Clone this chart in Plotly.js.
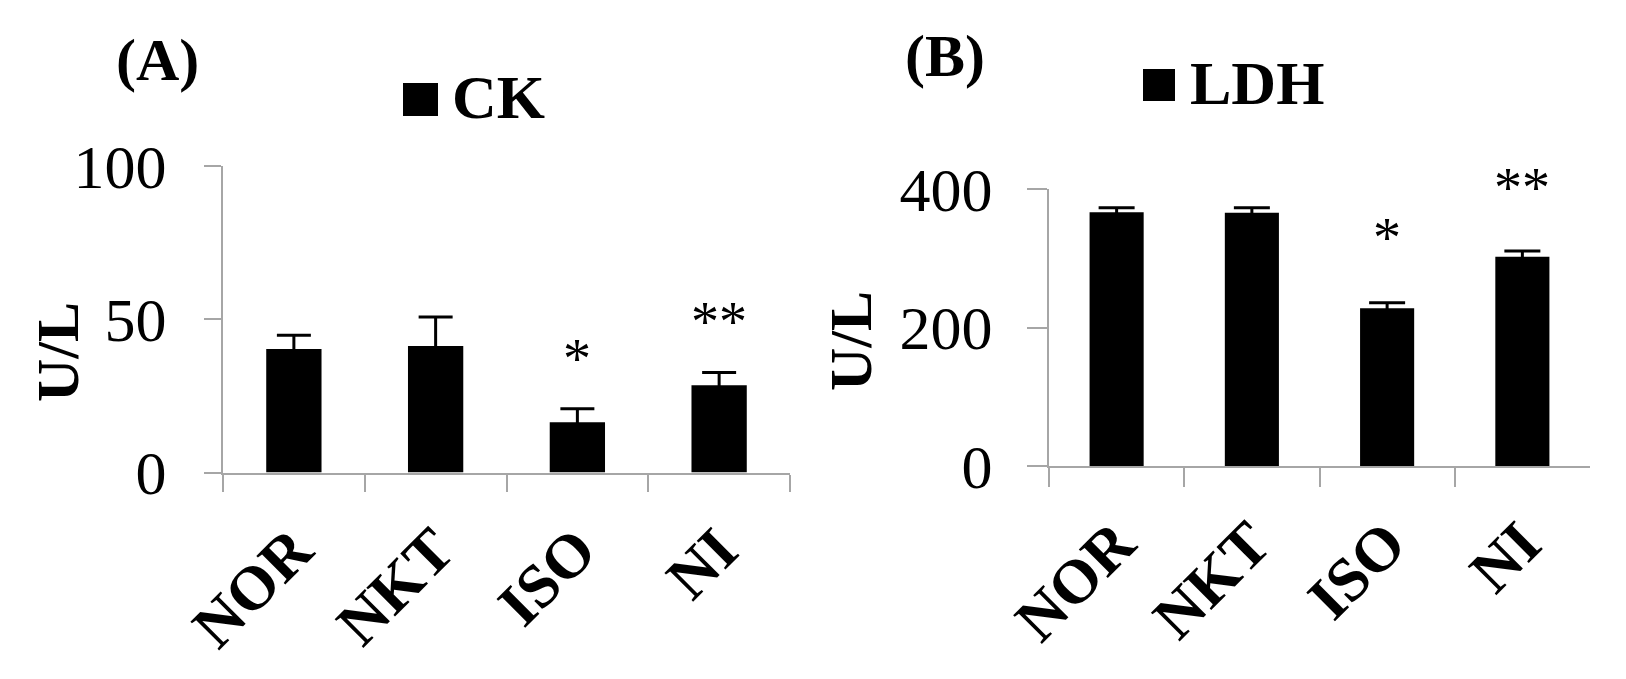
<!DOCTYPE html>
<html>
<head>
<meta charset="utf-8">
<script src="https://cdn.plot.ly/plotly-3.0.1.min.js"></script>
<style>html,body{margin:0;padding:0;background:#fff;}#chart{width:1626px;height:679px;}</style>
</head>
<body>
<div id="chart"></div>
<script>
// ---- data ----
const categories = ["NOR", "NKT", "ISO", "NI"];
const ckValues = [40.3, 41.3, 16.4, 28.5];
const ckErrors = [4.5, 9.4, 4.4, 4.1];
const ldhValues = [366.8, 366.2, 228.0, 302.6];
const ldhErrors = [6.6, 7.0, 8.1, 8.2];
const ckSig = ["", "", "*", "**"];
const ldhSig = ["", "", "*", "**"];
const ckName = "CK";
const ldhName = "LDH";
const unitLabel = "U/L";
const panelLabels = ["(A)", "(B)"];

// ---- helpers ----
const W = 1626, H = 679;
const px = x => x / W;
const py = y => 1 - y / H;
const SERIF = "Liberation Serif";
const AXC = "#a6a6a6";

const traces = [
  {type: "bar", x: categories, y: ckValues, name: ckName, xaxis: "x", yaxis: "y",
   width: 0.39, marker: {color: "#000000"},
   error_y: {type: "data", array: ckErrors, visible: true, color: "#000000", thickness: 3, width: 17}},
  {type: "bar", x: categories, y: ldhValues, name: ldhName, xaxis: "x2", yaxis: "y2",
   width: 0.40, marker: {color: "#000000"},
   error_y: {type: "data", array: ldhErrors, visible: true, color: "#000000", thickness: 3, width: 18}}
];

function xAxis(domain, anchor, ticklen) {
  return {domain: domain, anchor: anchor, type: "category", range: [-0.5, 3.5],
    tickson: "boundaries", ticks: "outside", ticklen: ticklen, tickwidth: 2, tickcolor: AXC,
    showline: true, linecolor: AXC, linewidth: 2, showgrid: false, zeroline: false,
    tickangle: -45, ticklabelstandoff: 14,
    tickfont: {family: SERIF, size: 62, weight: "bold", color: "#000"}, fixedrange: true};
}
function yAxis(domain, anchor, range, tickvals, ticklen, standoff) {
  return {domain: domain, anchor: anchor, range: range, tickmode: "array", tickvals: tickvals,
    ticks: "outside", ticklen: ticklen, tickwidth: 2, tickcolor: AXC,
    showline: true, linecolor: AXC, linewidth: 2, showgrid: false, zeroline: false,
    ticklabelstandoff: standoff,
    tickfont: {family: SERIF, size: 62, color: "#000"}, fixedrange: true};
}

// significance marker positions (layout)
const ckSigY = [0, 0, 37.1, 49.2];
const ldhSigY = [0, 0, 322, 395];

const annotations = [];
function note(o) {
  annotations.push(Object.assign({showarrow: false, xanchor: "center", yanchor: "middle"}, o));
}
categories.forEach((c, i) => {
  if (ckSig[i]) note({xref: "x", yref: "y", x: c, y: ckSigY[i], text: ckSig[i],
    font: {family: SERIF, size: 56, color: "#000"}});
  if (ldhSig[i]) note({xref: "x2", yref: "y2", x: c, y: ldhSigY[i], yshift: 5, text: ldhSig[i],
    font: {family: SERIF, size: 56, color: "#000"}});
});
// panel labels
note({xref: "paper", yref: "paper", x: px(157), y: py(60), text: panelLabels[0],
  font: {family: SERIF, size: 60, weight: "bold", color: "#000"}});
note({xref: "paper", yref: "paper", x: px(945), y: py(56), text: panelLabels[1],
  font: {family: SERIF, size: 60, weight: "bold", color: "#000"}});
// legend texts
note({xref: "paper", yref: "paper", x: px(450), y: py(97), xanchor: "left", text: ckName,
  font: {family: SERIF, size: 62, weight: "bold", color: "#000"}});
note({xref: "paper", yref: "paper", x: px(1188), y: py(83), xanchor: "left", text: ldhName,
  font: {family: SERIF, size: 62, weight: "bold", color: "#000"}});
// y-axis titles
note({xref: "paper", yref: "paper", x: px(58), y: py(352), text: unitLabel, textangle: -90,
  font: {family: SERIF, size: 60, weight: "bold", color: "#000"}});
note({xref: "paper", yref: "paper", x: px(851), y: py(341), text: unitLabel, textangle: -90,
  font: {family: SERIF, size: 60, weight: "bold", color: "#000"}});

const shapes = [
  {type: "rect", xref: "paper", yref: "paper", x0: px(403), x1: px(438), y0: py(116), y1: py(83),
   fillcolor: "#000", line: {width: 0}},
  {type: "rect", xref: "paper", yref: "paper", x0: px(1143), x1: px(1175), y0: py(101), y1: py(69),
   fillcolor: "#000", line: {width: 0}}
];

const layout = {
  width: W, height: H, margin: {l: 0, r: 0, t: 0, b: 0},
  paper_bgcolor: "#fff", plot_bgcolor: "#fff", showlegend: false,
  font: {family: SERIF},
  xaxis: xAxis([px(223), px(790)], "y", 17),
  yaxis: yAxis([py(472.5), py(166)], "x", [0, 100], [0, 50, 100], 17, 25),
  xaxis2: xAxis([px(1049), px(1590)], "y2", 19),
  yaxis2: yAxis([py(466), py(189.3)], "x2", [0, 400], [0, 200, 400], 20, 22),
  annotations: annotations, shapes: shapes
};

Plotly.newPlot("chart", traces, layout, {displayModeBar: false, staticPlot: true});
</script>
</body>
</html>
